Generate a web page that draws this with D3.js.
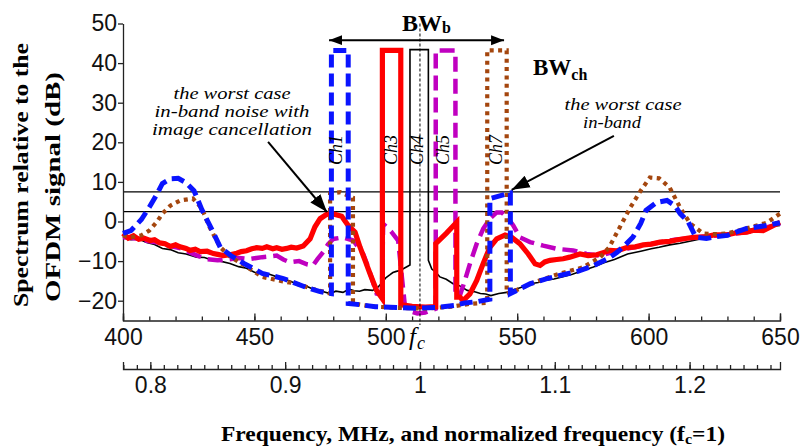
<!DOCTYPE html>
<html><head><meta charset="utf-8">
<script src="https://cdn.jsdelivr.net/npm/d3@7"></script>
<style>body{margin:0;background:#fff}svg{display:block;background:#fff}</style>
</head><body><svg id="c" width="801" height="448"></svg>
<script>
// ---------------- data ----------------
const fc = 513;                       // centre frequency, MHz
const xTicksMHz = [400, 450, 500, 550, 600, 650];
const xTickLabels = ["400", "450", "500", "550", "600", "650"];
const yTicks = [-20, -10, 0, 10, 20, 30, 40, 50];
const normTicks = [0.8, 0.9, 1, 1.1, 1.2];
const normTickLabels = ["0.8", "0.9", "1", "1.1", "1.2"];
const refLevels = [7.5, 2.5];         // dB reference lines
const chLabels = ["Ch1", "Ch3", "Ch4", "Ch5", "Ch7"];
const chCenters = [481.4, 502.0, 511.9, 521.8, 542.3];
const bwbRange = [478.4, 545];        // BW_b arrow, MHz
const bwbLevel = 45.8;                // dB

// Ch4 (black thin)
const ch4Data = [[400,-4],[403,-4.6],[406,-4.4],[409,-5.3],[412,-5.8],[415,-6.8],[418,-7.1],[421,-7.9],[424,-8.2],[428,-9],[431,-9.1],[434,-9.8],[437,-10],[440.7,-10.6],[444,-11.4],[447,-11.8],[450,-12.8],[453,-13.1],[456,-13.4],[460,-14.3],[463,-14.9],[466,-15.7],[469,-16.1],[472,-17],[475,-17.5],[478.8,-18.2],[481,-17.6],[483.7,-17.9],[486,-17.1],[488,-17.5],[490,-17.6],[492,-17.2],[495,-17.4],[497,-16.6],[498.5,-15.5],[500,-14.2],[501.5,-13.5],[502.7,-12.9],[504,-12.6],[505.4,-12.4],[507,-11.8],[509.2,-11],[509.2,43.4],[516.2,43.4],[516.2,-9.8],[517.5,-12],[519,-12.8],[520.6,-14],[523,-14.6],[525.6,-15.7],[528,-16.2],[531,-17.4],[533.5,-17.7],[536,-18.2],[538,-18.3],[540,-18.7],[543,-18.2],[546,-17.9],[548,-17.3],[550,-17],[553,-16.3],[555,-15.7],[558,-15.4],[561,-14.8],[564,-14.5],[567,-14],[571,-13.3],[575,-12.4],[579,-11.5],[583,-10.4],[587,-9.6],[592,-8.2],[597,-7.5],[601,-6.9],[604,-6.5],[608,-5.9],[612,-5.5],[617,-4.8],[621,-4.2],[625,-3.6],[630,-3],[634,-2.6],[638,-2.1],[642,-1.5],[646,-1.3],[650,-1]];

// Ch5 (magenta dashed)
const ch5Data = [[400,-4],[405,-4.3],[410,-5],[414,-5.4],[418,-6.2],[422,-6.8],[426,-8],[429,-8.8],[432,-9.5],[436,-9.8],[440,-9.6],[444,-9.2],[448,-9.5],[453,-9],[456,-8.8],[458.5,-8.6],[461,-9.6],[463.5,-10.3],[467,-10],[470,-10.8],[472.3,-11.1],[474,-9.5],[476.2,-7.7],[478,-5.8],[480,-4.4],[483.8,-4],[487.6,-4.8],[489.5,-6.5],[491.4,-8.2],[493,-11],[494.5,-14],[496.5,-18.2],[498.5,-18.5],[499,-0.6],[502,-2.5],[504.7,-4.8],[505.5,-10],[507.3,-21.6],[509,-22.6],[512,-23.2],[515,-23],[517,-22.5],[519,-22],[519,43.2],[526.5,43.2],[526.5,-19.1],[528.2,-18.7],[530.1,-14.9],[532,-10.7],[534.6,-5.6],[537.1,-1.8],[539.6,0.7],[542.2,2.3],[544.1,2.3],[546.6,0.7],[548.5,-1],[551,-4],[554.9,-5.2],[559.9,-6.1],[565,-6.9],[571.3,-7.3],[576.4,-8.2],[581.5,-8.6],[586,-7.8],[592,-6.8],[600,-5.8],[610,-4.6],[620,-3.9],[630,-3.3],[640,-2.4],[650,-0.5]];

// Ch3 (red solid)
const ch3Data = [[400,-3],[402,-4.2],[404,-3.6],[406,-4.5],[408,-4.2],[410.3,-4.8],[412,-4.6],[414,-5.4],[416,-5.6],[418,-6.3],[420,-5.9],[421.7,-6.4],[424,-6.8],[425.5,-7.3],[427.5,-7],[429.3,-7.6],[432,-7.5],[434.4,-8.1],[436,-8.3],[438.2,-8.6],[440.7,-8.4],[443.3,-8],[445,-7.6],[447,-7.4],[449,-6.9],[450.9,-6.6],[453,-6.8],[454.7,-6.4],[457,-6.9],[458.5,-6.6],[460.5,-7],[462.3,-6.8],[464,-6.5],[466.1,-6.7],[468.6,-6.2],[471.2,-4.4],[473,-1.4],[475,0.7],[477.5,1.8],[480,1.9],[483.2,1.3],[485.7,-1],[488.3,-2.7],[490.2,-6.5],[492.1,-9.8],[494,-13.2],[496.5,-17.4],[498.7,-19.5],[498.7,43.2],[505.7,43.2],[505.7,-21],[510,-21.4],[515,-21.6],[519,-21.5],[519,-5.6],[523,-3],[527,-0.2],[527,-19.1],[528.2,-19.1],[529.4,-20],[532,-18.3],[534.6,-14.9],[537,-10.7],[539.6,-6.5],[542.2,-4.4],[545.4,-3.4],[547.9,-4],[551,-5.6],[554.2,-8.2],[556.8,-10.7],[558.7,-11.1],[560.5,-10.2],[562.5,-9.8],[565,-9.6],[567.5,-9.4],[570,-9],[573.9,-8.2],[577,-8.6],[580.3,-8.4],[583,-7.8],[585.3,-7.3],[588,-7.4],[591.7,-6.6],[595,-6.4],[598,-5.9],[601,-5.7],[604.3,-5.2],[608,-5],[611,-4.6],[614,-4.3],[617,-4],[621,-3.9],[625,-3.4],[629.7,-3.4],[633,-2.9],[637.3,-2.7],[640,-2.2],[643.6,-2.3],[647,-1.2],[650,-0.2]];

// Ch7 (brown dotted)
const ch7Data = [[400,-3.5],[403,-4],[407,-3.5],[410,-2.3],[413,0],[415,2],[418,4],[421.7,5.3],[426.6,5.8],[430,3.3],[433,-1.5],[437,-6.5],[441,-9],[446,-11],[453,-14],[460,-15],[466,-15.7],[472,-17],[478.8,-18.2],[478.8,7],[482.7,7.4],[487.5,6],[487.5,-20.7],[495,-21.5],[505,-21.8],[515,-22],[525,-21.5],[532,-20.8],[538.6,-20.5],[538.6,43.2],[546,43.2],[546,-18.2],[551,-17],[556,-15.5],[561,-14.3],[567,-13],[575,-11.6],[581.6,-9],[585,-6.5],[589,-1.5],[593,3.5],[597,7.8],[600.5,11.1],[604,10.9],[608,8.6],[612,3.5],[615.8,-0.5],[620.7,-3],[625,-3.2],[630,-3],[637,-1.8],[645,-0.3],[650,2]];

// Ch1 (blue dashed)
const ch1Data = [[400,-3],[403,-2.3],[407,0.5],[410,3.6],[413,7],[415,9.6],[418,10.8],[421,10.9],[424,9.8],[427,7.8],[430,3],[434,-2.3],[437,-6.5],[441,-8.6],[446,-10.6],[453,-13.1],[461,-14.4],[470,-16.7],[475,-17.7],[479.3,-18.2],[479.3,43.2],[485.7,43.2],[485.7,-20.7],[490,-21],[496,-21.5],[504,-21.7],[512,-21.9],[520,-21.7],[526,-21.2],[530,-20.6],[535,-20.2],[539.6,-19.6],[539.6,5.8],[547.4,7.2],[547.4,-18.2],[551,-17],[555,-15.7],[561,-14.5],[567,-13.5],[573,-12.6],[579,-11.2],[585,-9.2],[588,-7.8],[591,-6],[594,-4],[597,-0.5],[599,2.8],[603,4.8],[607,5.3],[610,4],[612,2],[615,0],[618,-4],[622,-4.3],[626,-3.8],[630,-3.5],[637,-1.8],[645,-1],[650,-0.3]];

// annotations (data coordinates)
const leftNote = ["the worst case", "in-band noise with", "image cancellation"];
const rightNote = ["the worst case", "in-band"];
const leftArrow = [[455.2, 20.1], [477.6, 2.4]];
const rightArrow = [[586.8, 21.6], [547.9, 8.0]];

// ---------------- drawing ----------------
const svg = d3.select("#c");
const x = d3.scaleLinear().domain([400, 650]).range([123, 780]);
const y = d3.scaleLinear().domain([-25, 50]).range([320.5, 23.5]);
const xn = d3.scaleLinear().domain([400 / fc, 650 / fc]).range([123, 780]);

const sans = "'Liberation Sans', Arial, sans-serif";
const serif = "'Liberation Serif', 'Times New Roman', serif";

const defs = svg.append("defs");
function marker(id, len, half) {
  defs.append("marker").attr("id", id).attr("markerUnits", "userSpaceOnUse")
    .attr("markerWidth", len + 2).attr("markerHeight", 2 * half + 2)
    .attr("viewBox", `0 ${-half - 1} ${len + 2} ${2 * half + 2}`)
    .attr("refX", len).attr("refY", 0).attr("orient", "auto-start-reverse")
    .append("path").attr("d", `M0,${-half}L${len},0L0,${half}Z`).attr("fill", "#000");
}
marker("arrS", 13, 5);
marker("arrL", 18, 6.5);

// reference lines
svg.append("g").selectAll("line").data(refLevels).join("line")
  .attr("x1", x(400)).attr("x2", x(650))
  .attr("y1", d => y(d)).attr("y2", d => y(d))
  .attr("stroke", "#000").attr("stroke-width", 1.2);

// axes
const axisColor = "#222";
const yAxis = svg.append("g").attr("transform", `translate(${x(400)},0)`).attr("color", axisColor)
  .call(d3.axisLeft(y).tickValues(yTicks).tickSize(5).tickSizeOuter(0).tickPadding(1).tickFormat(d3.format("d")));
yAxis.selectAll("text").attr("font-size", 23).attr("font-family", sans).attr("fill", "#111");
yAxis.selectAll("path,line").attr("stroke-width", 1.3);

const xMinor = svg.append("g").attr("transform", `translate(0,${y(-25)})`).attr("color", axisColor)
  .call(d3.axisBottom(x).tickValues(d3.range(400, 651, 10)).tickSize(-4).tickSizeOuter(-7).tickFormat(""));
xMinor.selectAll("path,line").attr("stroke-width", 1.3);
const xMajor = svg.append("g").attr("transform", `translate(0,${y(-25)})`).attr("color", axisColor)
  .call(d3.axisBottom(x).tickValues(xTicksMHz).tickSize(-7).tickSizeOuter(-7).tickPadding(8)
    .tickFormat((d, i) => xTickLabels[i]));
xMajor.select(".domain").remove();
xMajor.selectAll("line").attr("stroke-width", 1.3);
xMajor.selectAll("text").attr("font-size", 23).attr("font-family", sans).attr("fill", "#111");

const nY = 369;
const nMinor = svg.append("g").attr("transform", `translate(0,${nY})`).attr("color", axisColor)
  .call(d3.axisBottom(xn).tickValues(d3.range(78, 127).map(d => d / 100)).tickSize(-4).tickSizeOuter(-7).tickFormat(""));
nMinor.selectAll("path,line").attr("stroke-width", 1.3);
const nMajor = svg.append("g").attr("transform", `translate(0,${nY})`).attr("color", axisColor)
  .call(d3.axisBottom(xn).tickValues(normTicks).tickSize(-7).tickSizeOuter(0).tickPadding(8)
    .tickFormat((d, i) => normTickLabels[i]));
nMajor.select(".domain").remove();
nMajor.selectAll("line").attr("stroke-width", 1.3);
nMajor.selectAll("text").attr("font-size", 23).attr("font-family", sans).attr("fill", "#111");

// curves
const line = d3.line().x(d => x(d[0])).y(d => y(d[1]));
const seriesTable = [
  { data: ch4Data, color: "#000000", width: 1.6, dash: null, cap: "butt" },
  { data: ch5Data, color: "#c000c0", width: 4.5, dash: "15,7", cap: "butt" },
  { data: ch3Data, color: "#ff0000", width: 5.2, dash: null, cap: "butt" },
  { data: ch7Data, color: "#a4460e", width: 4.2, dash: "4,4.4", cap: "butt" },
  { data: ch1Data, color: "#0a14ff", width: 5, dash: "13,6", cap: "butt" }
];
svg.append("g").selectAll("path").data(seriesTable).join("path")
  .attr("d", d => line(d.data)).attr("fill", "none")
  .attr("stroke", d => d.color).attr("stroke-width", d => d.width)
  .attr("stroke-dasharray", d => d.dash).attr("stroke-linecap", d => d.cap)
  .attr("stroke-linejoin", "miter");

// fc dashed line
svg.append("line").attr("x1", x(fc)).attr("x2", x(fc)).attr("y1", y(50)).attr("y2", 325)
  .attr("stroke", "#000").attr("stroke-width", 1).attr("stroke-dasharray", "3,2");

// BW_b arrow
svg.append("line").attr("x1", x(bwbRange[0])).attr("x2", x(bwbRange[1]))
  .attr("y1", y(bwbLevel)).attr("y2", y(bwbLevel))
  .attr("stroke", "#000").attr("stroke-width", 2)
  .attr("marker-start", "url(#arrS)").attr("marker-end", "url(#arrS)");

const bwb = svg.append("text").attr("x", 402).attr("y", 31).attr("font-family", serif)
  .attr("font-weight", "bold").attr("font-size", 24).attr("fill", "#000");
bwb.append("tspan").text("BW");
bwb.append("tspan").attr("font-size", 16).attr("dy", 2).text("b");

const bwch = svg.append("text").attr("x", 533).attr("y", 75).attr("font-family", serif)
  .attr("font-weight", "bold").attr("font-size", 23).attr("fill", "#000");
bwch.append("tspan").text("BW");
bwch.append("tspan").attr("font-size", 16).attr("dy", 5).text("ch");

// channel labels
svg.append("g").selectAll("text").data(chLabels).join("text")
  .attr("transform", (d, i) => `translate(${x(chCenters[i]) + 5.5},150) rotate(-90)`)
  .attr("text-anchor", "middle").attr("font-family", serif).attr("font-style", "italic")
  .attr("font-size", 18).attr("fill", "#000").text(d => d);

// annotations
const noteLeftBase = [99, 117, 135];
const noteLeftLen = [117, 155, 160];
svg.append("g").selectAll("text").data(leftNote).join("text")
  .attr("x", 232).attr("y", (d, i) => noteLeftBase[i]).attr("text-anchor", "middle")
  .attr("font-family", serif).attr("font-style", "italic").attr("font-size", 16)
  .attr("textLength", (d, i) => noteLeftLen[i]).attr("lengthAdjust", "spacingAndGlyphs")
  .attr("fill", "#000").text(d => d);
const noteRightX = [623, 612];
const noteRightBase = [110, 128];
const noteRightLen = [117, 58];
svg.append("g").selectAll("text").data(rightNote).join("text")
  .attr("x", (d, i) => noteRightX[i]).attr("y", (d, i) => noteRightBase[i]).attr("text-anchor", "middle")
  .attr("font-family", serif).attr("font-style", "italic").attr("font-size", 16)
  .attr("textLength", (d, i) => noteRightLen[i]).attr("lengthAdjust", "spacingAndGlyphs")
  .attr("fill", "#000").text(d => d);

[leftArrow, rightArrow].forEach(a => {
  svg.append("line").attr("x1", x(a[0][0])).attr("y1", y(a[0][1]))
    .attr("x2", x(a[1][0])).attr("y2", y(a[1][1]))
    .attr("stroke", "#000").attr("stroke-width", 2).attr("marker-end", "url(#arrL)");
});

// f_c label
const fcl = svg.append("text").attr("x", 409).attr("y", 345).attr("font-family", serif)
  .attr("font-style", "italic").attr("font-size", 25).attr("fill", "#000");
fcl.append("tspan").text("f");
fcl.append("tspan").attr("font-size", 18).attr("dy", 4).attr("dx", 1).text("c");

// axis titles
svg.append("text").attr("transform", "translate(28,175) rotate(-90)").attr("text-anchor", "middle")
  .attr("font-family", serif).attr("font-weight", "bold").attr("font-size", 22)
  .attr("textLength", 264).attr("lengthAdjust", "spacingAndGlyphs").attr("fill", "#000")
  .text("Spectrum relative to the");
svg.append("text").attr("transform", "translate(60,187) rotate(-90)").attr("text-anchor", "middle")
  .attr("font-family", serif).attr("font-weight", "bold").attr("font-size", 22)
  .attr("textLength", 230).attr("lengthAdjust", "spacingAndGlyphs").attr("fill", "#000")
  .text("OFDM signal (dB)");

const xt = svg.append("text").attr("x", 221).attr("y", 441)
  .attr("font-family", serif).attr("font-weight", "bold").attr("font-size", 22)
  .attr("textLength", 504).attr("lengthAdjust", "spacingAndGlyphs").attr("fill", "#000");
xt.append("tspan").text("Frequency, MHz, and normalized frequency (f");
xt.append("tspan").attr("font-size", 15).attr("dy", 3).text("c");
xt.append("tspan").attr("dy", -3).text("=1)");
</script></body></html>
